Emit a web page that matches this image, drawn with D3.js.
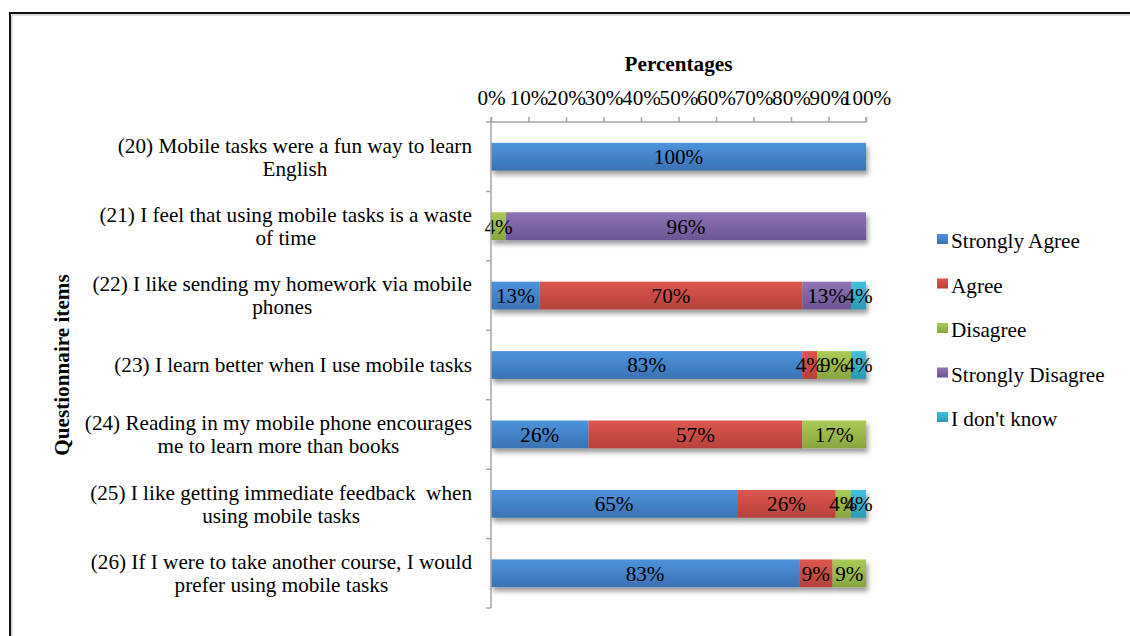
<!DOCTYPE html>
<html>
<head>
<meta charset="utf-8">
<script src="https://cdn.jsdelivr.net/npm/d3@7"></script>
<style>
  html, body { margin: 0; padding: 0; background: #fff; }
  svg { display: block; }
  text { font-family: "Liberation Serif", "Times New Roman", serif; fill: #000; }
</style>
</head>
<body>
<svg id="chart" width="1130" height="636"></svg>
<script>
// Questionnaire items (each entry is one wrapped label, line by line)
const items = [
  ["(20) Mobile tasks were a fun way to learn", "English"],
  ["(21) I feel that using mobile tasks is a waste", "of time"],
  ["(22) I like sending my homework via mobile", "phones"],
  ["(23) I learn better when I use mobile tasks"],
  ["(24) Reading in my mobile phone encourages", "me to learn more than books"],
  ["(25) I like getting immediate feedback  when", "using mobile tasks"],
  ["(26) If I were to take another course, I would", "prefer using mobile tasks"]
];

const seriesNames = ["Strongly Agree", "Agree", "Disagree", "Strongly Disagree", "I don't know"];

// Percentages per response, one value per questionnaire item (20 .. 26)
const stronglyAgree    = [100, 0, 13, 83, 26, 65, 83];
const agree            = [0, 0, 70, 4, 57, 26, 9];
const disagree         = [0, 4, 0, 9, 17, 4, 9];
const stronglyDisagree = [0, 96, 13, 0, 0, 0, 0];
const dontKnow         = [0, 0, 4, 4, 0, 4, 0];

const tickLabels = ["0%", "10%", "20%", "30%", "40%", "50%", "60%", "70%", "80%", "90%", "100%"];

const colorsTop    = ["#4d93dc", "#dc5750", "#aacb58", "#8f74b6", "#42c2dc"];
const colorsBottom = ["#3a72b3", "#b5413a", "#88a53f", "#6c5592", "#2c9ab4"];

const seriesValues = [stronglyAgree, agree, disagree, stronglyDisagree, dontKnow];
const rows = items.map((lines, i) => {
  const r = { key: i };
  seriesNames.forEach((s, j) => { r[s] = seriesValues[j][i]; });
  return r;
});

const svg = d3.select("#chart");
const W = 1130, H = 636;

// outer frame
svg.append("rect").attr("x", 10).attr("y", 13).attr("width", W + 20).attr("height", H + 20)
  .attr("fill", "#fff").attr("stroke", "#111").attr("stroke-width", 2);
svg.append("rect").attr("x", 12).attr("y", 15).attr("width", W + 20).attr("height", H + 20)
  .attr("fill", "none").attr("stroke", "#bbb").attr("stroke-width", 1);

const defs = svg.append("defs");
seriesNames.forEach((s, j) => {
  const g = defs.append("linearGradient").attr("id", "grad" + j)
    .attr("x1", 0).attr("y1", 0).attr("x2", 0).attr("y2", 1);
  g.append("stop").attr("offset", "0%").attr("stop-color", colorsTop[j]);
  g.append("stop").attr("offset", "100%").attr("stop-color", colorsBottom[j]);
});
const shadow = defs.append("filter").attr("id", "shadow")
  .attr("x", "-5%").attr("y", "-30%").attr("width", "115%").attr("height", "180%");
shadow.append("feDropShadow").attr("dx", 2).attr("dy", 4).attr("stdDeviation", 2.5)
  .attr("flood-color", "#000").attr("flood-opacity", 0.4);

const margin = { left: 491, right: 264, top: 122, bottom: 28 };
const x = d3.scaleLinear().domain([0, 1]).range([margin.left, W - margin.right]);
const y = d3.scaleBand().domain(d3.range(items.length)).range([margin.top, H - margin.bottom])
  .paddingInner(0.6).paddingOuter(0.3);

const stack = d3.stack().keys(seriesNames).offset(d3.stackOffsetExpand);
const stacked = stack(rows);
const fontSize = 21.2;

// bars
const layers = svg.append("g").attr("filter", "url(#shadow)");
stacked.forEach((layer, j) => {
  layers.selectAll(null).data(layer.filter(d => d.data[seriesNames[j]] > 0)).enter()
    .append("rect")
    .attr("x", d => x(d[0]))
    .attr("width", d => x(d[1]) - x(d[0]))
    .attr("y", d => y(d.data.key))
    .attr("height", y.bandwidth())
    .attr("fill", `url(#grad${j})`);
});

// data labels
stacked.forEach((layer, j) => {
  svg.append("g").selectAll("text")
    .data(layer.filter(d => d.data[seriesNames[j]] > 0)).enter()
    .append("text")
    .attr("x", d => (x(d[0]) + x(d[1])) / 2)
    .attr("y", d => y(d.data.key) + y.bandwidth() / 2)
    .attr("dy", "0.35em")
    .attr("text-anchor", "middle")
    .style("font-size", fontSize + "px")
    .text(d => d.data[seriesNames[j]] + "%");
});

// x axis (top)
const xAxis = d3.axisTop(x).tickValues(d3.range(0, 1.0001, 0.1)).tickSize(5)
  .tickFormat((d, i) => tickLabels[i]);
const gx = svg.append("g").attr("transform", `translate(0,${margin.top})`).call(xAxis);
gx.select(".domain").attr("stroke", "#a6a6a6").attr("stroke-width", 1.5)
  .attr("d", `M${x(0)},${-5}V0H${x(1)}V-5`);
gx.selectAll(".tick line").attr("stroke", "#a6a6a6").attr("stroke-width", 1.5);
gx.selectAll(".tick text").attr("y", -17).attr("dy", 0)
  .style("font-size", fontSize + "px").style("font-family", "Liberation Serif").attr("fill", "#000");

// y axis with ticks at band boundaries
const step = y.step();
const yTicks = d3.range(items.length + 1).map(i => margin.top + i * step);
const gy = svg.append("g");
gy.append("line").attr("x1", x(0)).attr("x2", x(0)).attr("y1", margin.top).attr("y2", H - margin.bottom)
  .attr("stroke", "#a6a6a6").attr("stroke-width", 1.5);
gy.selectAll("line.t").data(yTicks).enter().append("line").attr("class", "t")
  .attr("x1", x(0) - 5).attr("x2", x(0)).attr("y1", d => d).attr("y2", d => d)
  .attr("stroke", "#a6a6a6").attr("stroke-width", 1.5);

// category labels: lines centred on each other, block right-aligned
const labelRight = 472, lineH = 23;
items.forEach((lines, i) => {
  const cy = y(i) + y.bandwidth() / 2;
  const g = svg.append("g");
  const texts = lines.map((ln, k) => g.append("text")
    .attr("y", cy + (k - (lines.length - 1) / 2) * lineH)
    .attr("dy", "0.35em")
    .attr("text-anchor", "middle")
    .style("font-size", fontSize + "px")
    .style("white-space", "pre")
    .attr("xml:space", "preserve")
    .text(ln));
  const maxW = d3.max(texts, t => t.node().getComputedTextLength());
  texts.forEach(t => t.attr("x", labelRight - maxW / 2));
});

// axis titles
svg.append("text").attr("x", (x(0) + x(1)) / 2).attr("y", 71)
  .attr("text-anchor", "middle").style("font-size", fontSize + "px").style("font-weight", "bold")
  .text("Percentages");
svg.append("text").attr("transform", `translate(69,${(margin.top + H - margin.bottom) / 2}) rotate(-90)`)
  .attr("text-anchor", "middle").style("font-size", fontSize + "px").style("font-weight", "bold")
  .text("Questionnaire items");

// legend
const legend = svg.append("g");
seriesNames.forEach((s, j) => {
  const cy = 241 + j * 44.5;
  legend.append("rect").attr("x", 937).attr("y", cy - 7).attr("width", 11).attr("height", 10)
    .attr("fill", `url(#grad${j})`);
  legend.append("text").attr("x", 951).attr("y", cy).attr("dy", "0.35em")
    .style("font-size", fontSize + "px").text(s);
});
</script>
</body>
</html>
